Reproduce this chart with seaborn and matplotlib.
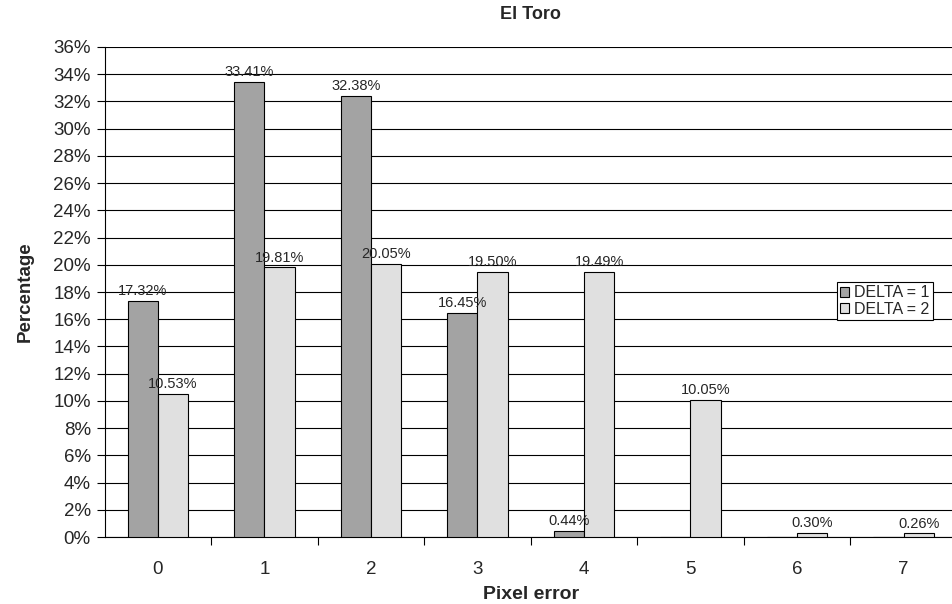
import numpy as np
import pandas as pd
import matplotlib
matplotlib.use("Agg")
import matplotlib.pyplot as plt
import seaborn as sns
from matplotlib.ticker import FixedLocator

sns.set_style("white")
plt.rcParams['font.family'] = ['Liberation Sans', 'DejaVu Sans']

pixel_error = [0, 1, 2, 3, 4, 5, 6, 7]
delta1 = [17.32, 33.41, 32.38, 16.45, 0.44, 0.0, 0.0, 0.0]
delta2 = [10.53, 19.81, 20.05, 19.50, 19.49, 10.05, 0.30, 0.26]
series_names = ["DELTA = 1", "DELTA = 2"]
colors = ["#a3a3a3", "#e0e0e0"]

df = pd.DataFrame({
    "Pixel error": pixel_error * 2,
    "Percentage": delta1 + delta2,
    "series": [series_names[0]] * len(pixel_error) + [series_names[1]] * len(pixel_error),
})

fig = plt.figure(figsize=(9.52, 6.04), dpi=100)
ax = fig.add_axes([0.110, 0.1109, 0.895, 0.8113])

sns.barplot(data=df, x="Pixel error", y="Percentage", hue="series",
            palette=colors, width=0.566, edgecolor="black", linewidth=0.8,
            ax=ax, zorder=3)

# value labels (skip empty bars)
for cont in ax.containers:
    labels = [f"{v:.2f}%" if v > 0 else "" for v in cont.datavalues]
    ax.bar_label(cont, labels=labels, padding=2, fontsize=10.5)

ax.set_ylim(0, 36)
ax.set_xlim(-0.5, 7.5)
ax.set_yticks(np.arange(0, 37, 2))
ax.set_yticklabels([f"{v}%" for v in range(0, 37, 2)], fontsize=13.5)
ax.set_xticks(range(8))
ax.set_xticklabels([str(p) for p in pixel_error], fontsize=13.5)
ax.tick_params(axis="x", which="major", length=0, pad=17)
ax.xaxis.set_minor_locator(FixedLocator(np.arange(0.5, 7.5, 1)))
ax.tick_params(axis="x", which="minor", length=6, width=0.8, direction="out",
               bottom=True, color="black")
ax.tick_params(axis="y", length=6, width=0.8, direction="out", left=True,
               color="black", pad=4)

ax.yaxis.grid(True, color="black", linewidth=0.8, zorder=0)
ax.set_axisbelow(True)
for side in ["top", "right"]:
    ax.spines[side].set_visible(False)
ax.spines["left"].set_color("black")
ax.spines["bottom"].set_color("black")
ax.spines["left"].set_linewidth(0.8)
ax.spines["bottom"].set_linewidth(0.8)

ax.set_title("El Toro", fontsize=13, fontweight="bold", pad=20)
ax.set_xlabel("Pixel error", fontsize=14, fontweight="bold", labelpad=6)
ax.set_ylabel("Percentage", fontsize=13.5, fontweight="bold", labelpad=14)

leg = ax.legend(loc="upper left", bbox_to_anchor=(0.859, 0.52), fontsize=11.5,
                frameon=True, fancybox=False, edgecolor="black",
                handlelength=0.6, handleheight=0.6, handletextpad=0.3,
                borderpad=0.2, labelspacing=0.1, borderaxespad=0)
leg.get_frame().set_linewidth(0.8)
leg.get_frame().set_alpha(1)

fig.savefig("out.png", dpi=100)
